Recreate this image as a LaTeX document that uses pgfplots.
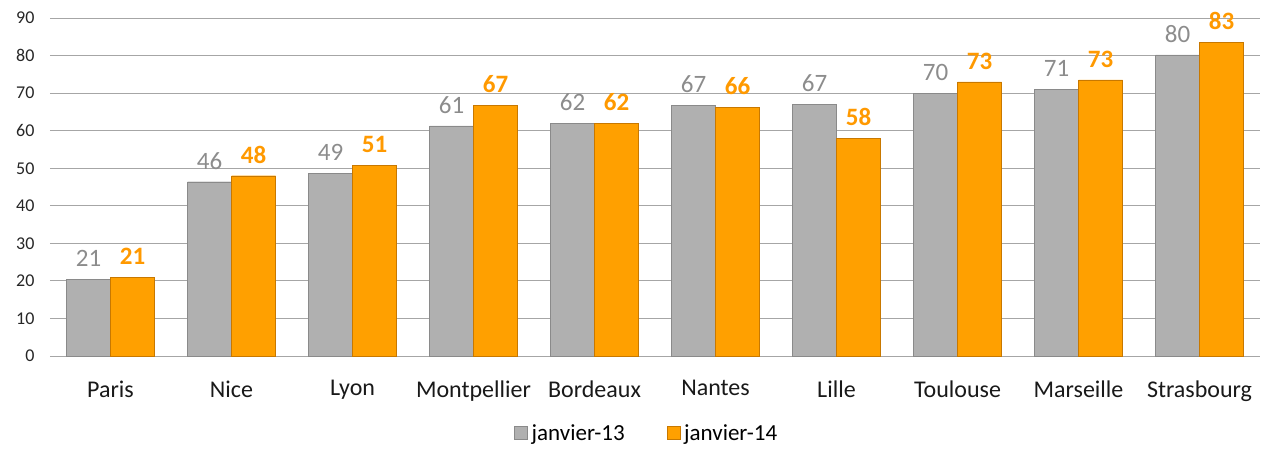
\documentclass[border=0pt]{standalone}
\usepackage{fontspec}
\setmainfont{Carlito}
\usepackage{pgfplots}
\usepackage{pgfplotstable}
\pgfplotsset{compat=1.18}
\definecolor{gbar}{HTML}{B0B0B0}
\definecolor{gedge}{HTML}{8A8A8A}
\definecolor{obar}{HTML}{FFA000}
\definecolor{oedge}{HTML}{C87800}
\definecolor{glab}{HTML}{8C8C8C}
\definecolor{olab}{HTML}{FF9900}
\definecolor{gridc}{HTML}{A6A6A6}
\pgfplotstableread{
x y lab
0 20.4 21
1 46.4 46
2 48.6 49
3 61.3 61
4 61.9 62
5 66.7 67
6 67.0 67
7 70.0 70
8 71.0 71
9 80.2 80
}\gdata
\pgfplotstableread{
x y lab
0 21.0 21
1 48.0 48
2 50.7 51
3 66.8 67
4 61.9 62
5 66.2 66
6 58.0 58
7 73.0 73
8 73.5 73
9 83.6 83
}\odata
\begin{document}
\begin{tikzpicture}
\useasboundingbox (-50pt,-94pt) rectangle (1213pt,356pt);
\begin{axis}[
  at={(0pt,0pt)}, anchor=south west,
  scale only axis, width=1210pt, height=338pt,
  xmin=-0.5, xmax=9.5, ymin=0, ymax=90,
  ytick={0,10,...,90},
  xtick={0,...,9},
  xticklabels={Paris,Nice,Lyon,Montpellier,Bordeaux,Nantes,Lille,Toulouse,Marseille,Strasbourg},
  axis line style={draw=none},
  major tick length=0pt,
  xmajorgrids=false,
  ymajorgrids=true, grid style={gridc, line width=1pt},
  /pgf/number format/assume math mode=true,
  yticklabel style={font=\fontsize{18}{21}\selectfont, black!85, xshift=-12pt},
  xticklabel style={font=\fontsize{24}{28}\selectfont, black!90, yshift=-21pt},
  ybar, bar width=44pt,
  point meta=explicit symbolic,
  nodes near coords,
  legend style={at={(0.494,-0.19)}, anchor=north, draw=none, legend columns=2,
    font=\fontsize{23}{26}\selectfont, /tikz/every even column/.append style={column sep=38pt}},
  legend image code/.code={\draw[#1] (0pt,-6.5pt) rectangle (13pt,6.5pt);},
  legend style={nodes={inner xsep=4pt}},
]
\addplot[fill=gbar, draw=gedge, bar shift=-22pt,
  every node near coord/.append style={font=\fontsize{25}{28}\selectfont, text=glab, yshift=9pt}]
  table[x=x,y=y,meta=lab]{\gdata};
\addplot[fill=obar, draw=oedge, bar shift=22pt,
  every node near coord/.append style={font=\fontsize{25}{28}\selectfont\bfseries, text=olab, yshift=9pt}]
  table[x=x,y=y,meta=lab]{\odata};
\legend{janvier-13,janvier-14}
\end{axis}
\end{tikzpicture}
\end{document}
